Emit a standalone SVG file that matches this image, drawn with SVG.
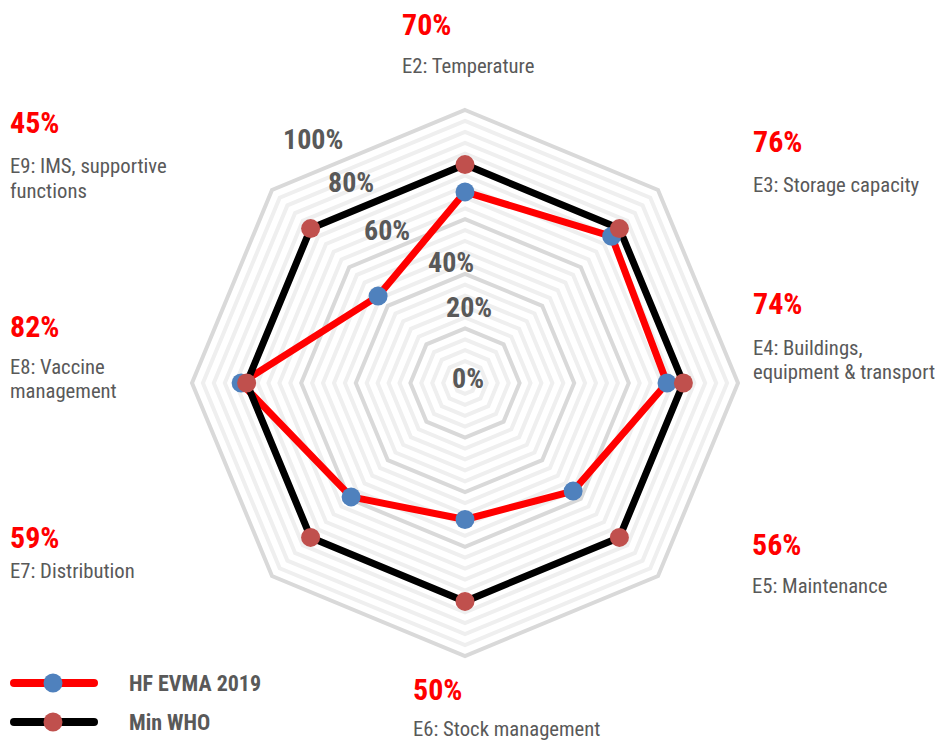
<svg xmlns="http://www.w3.org/2000/svg" width="938" height="743" viewBox="0 0 938 743">
<style>
.minor{fill:none;stroke:#efefef;stroke-width:4}
.major{fill:none;stroke:#d9d9d9;stroke-width:4}
.ax{font-family:"Liberation Sans Narrow","Roboto Condensed","Arial Narrow","Liberation Sans",sans-serif;font-weight:bold;font-size:28px;fill:#595959}
.val{font-family:"Liberation Sans Narrow","Roboto Condensed","Arial Narrow","Liberation Sans",sans-serif;font-weight:bold;font-size:30px;fill:#ff0000}
.lbl{font-family:"Liberation Sans Narrow","Roboto Condensed","Arial Narrow","Liberation Sans",sans-serif;font-size:20.7px;fill:#595959}
.leg{font-family:"Liberation Sans Narrow","Roboto Condensed","Arial Narrow","Liberation Sans",sans-serif;font-weight:bold;font-size:22px;fill:#595959}
.hf{fill:none;stroke:#ff0000;stroke-width:7;stroke-linejoin:round}
.who{fill:none;stroke:#000000;stroke-width:7;stroke-linejoin:round}
.dhf{fill:#4f81bd}
.dwho{fill:#c0504d}
</style>
<rect width="938" height="743" fill="#ffffff"/>
<g id="grid">
<polygon class="minor" points="465,372.1 472.7,375.3 475.9,383 472.7,390.7 465,393.9 457.3,390.7 454.1,383 457.3,375.3"/>
<polygon class="minor" points="465,361.2 480.4,367.6 486.8,383 480.4,398.4 465,404.8 449.6,398.4 443.2,383 449.6,367.6"/>
<polygon class="minor" points="465,350.2 488.2,359.8 497.8,383 488.2,406.2 465,415.8 441.8,406.2 432.2,383 441.8,359.8"/>
<polygon class="minor" points="465,339.3 495.9,352.1 508.7,383 495.9,413.9 465,426.7 434.1,413.9 421.3,383 434.1,352.1"/>
<polygon class="major" points="465,328.4 503.6,344.4 519.6,383 503.6,421.6 465,437.6 426.4,421.6 410.4,383 426.4,344.4"/>
<polygon class="minor" points="465,317.5 511.3,336.7 530.5,383 511.3,429.3 465,448.5 418.7,429.3 399.5,383 418.7,336.7"/>
<polygon class="minor" points="465,306.6 519.1,328.9 541.4,383 519.1,437.1 465,459.4 410.9,437.1 388.6,383 410.9,328.9"/>
<polygon class="minor" points="465,295.6 526.8,321.2 552.4,383 526.8,444.8 465,470.4 403.2,444.8 377.6,383 403.2,321.2"/>
<polygon class="minor" points="465,284.7 534.5,313.5 563.3,383 534.5,452.5 465,481.3 395.5,452.5 366.7,383 395.5,313.5"/>
<polygon class="major" points="465,273.8 542.2,305.8 574.2,383 542.2,460.2 465,492.2 387.8,460.2 355.8,383 387.8,305.8"/>
<polygon class="minor" points="465,262.9 549.9,298.1 585.1,383 549.9,467.9 465,503.1 380.1,467.9 344.9,383 380.1,298.1"/>
<polygon class="minor" points="465,252 557.7,290.3 596,383 557.7,475.7 465,514 372.3,475.7 334,383 372.3,290.3"/>
<polygon class="minor" points="465,241 565.4,282.6 607,383 565.4,483.4 465,525 364.6,483.4 323,383 364.6,282.6"/>
<polygon class="minor" points="465,230.1 573.1,274.9 617.9,383 573.1,491.1 465,535.9 356.9,491.1 312.1,383 356.9,274.9"/>
<polygon class="major" points="465,219.2 580.8,267.2 628.8,383 580.8,498.8 465,546.8 349.2,498.8 301.2,383 349.2,267.2"/>
<polygon class="minor" points="465,208.3 588.5,259.5 639.7,383 588.5,506.5 465,557.7 341.5,506.5 290.3,383 341.5,259.5"/>
<polygon class="minor" points="465,197.4 596.3,251.7 650.6,383 596.3,514.3 465,568.6 333.7,514.3 279.4,383 333.7,251.7"/>
<polygon class="minor" points="465,186.4 604,244 661.6,383 604,522 465,579.6 326,522 268.4,383 326,244"/>
<polygon class="minor" points="465,175.5 611.7,236.3 672.5,383 611.7,529.7 465,590.5 318.3,529.7 257.5,383 318.3,236.3"/>
<polygon class="major" points="465,164.6 619.4,228.6 683.4,383 619.4,537.4 465,601.4 310.6,537.4 246.6,383 310.6,228.6"/>
<polygon class="minor" points="465,153.7 627.2,220.8 694.3,383 627.2,545.2 465,612.3 302.8,545.2 235.7,383 302.8,220.8"/>
<polygon class="minor" points="465,142.8 634.9,213.1 705.2,383 634.9,552.9 465,623.2 295.1,552.9 224.8,383 295.1,213.1"/>
<polygon class="minor" points="465,131.8 642.6,205.4 716.2,383 642.6,560.6 465,634.2 287.4,560.6 213.8,383 287.4,205.4"/>
<polygon class="minor" points="465,120.9 650.3,197.7 727.1,383 650.3,568.3 465,645.1 279.7,568.3 202.9,383 279.7,197.7"/>
<polygon class="major" points="465,110 658,190 738,383 658,576 465,656 272,576 192,383 272,190"/>
</g>
<g id="axis-labels">
<text class="ax" x="283" y="149">100%</text>
<text class="ax" x="328" y="192">80%</text>
<text class="ax" x="364" y="240">60%</text>
<text class="ax" x="428" y="272">40%</text>
<text class="ax" x="446" y="317">20%</text>
<text class="ax" x="452" y="388">0%</text>
</g>
<g id="connectors">
<polygon class="hf" points="465,191.9 611.7,236.3 667,383 573.1,491.1 465,519.5 351.1,496.9 241.1,383 378.1,296.1"/>
<polygon class="who" points="465,164.6 619.4,228.6 683.4,383 619.4,537.4 465,601.4 310.6,537.4 246.6,383 310.6,228.6"/>
</g>
<g id="series-hf">
<circle class="dhf" cx="465" cy="191.9" r="9.5"/>
<circle class="dhf" cx="611.7" cy="236.3" r="9.5"/>
<circle class="dhf" cx="667" cy="383" r="9.5"/>
<circle class="dhf" cx="573.1" cy="491.1" r="9.5"/>
<circle class="dhf" cx="465" cy="519.5" r="9.5"/>
<circle class="dhf" cx="351.1" cy="496.9" r="9.5"/>
<circle class="dhf" cx="241.1" cy="383" r="9.5"/>
<circle class="dhf" cx="378.1" cy="296.1" r="9.5"/>
</g>
<g id="series-who">
<circle class="dwho" cx="465" cy="164.6" r="9.5"/>
<circle class="dwho" cx="619.4" cy="228.6" r="9.5"/>
<circle class="dwho" cx="683.4" cy="383" r="9.5"/>
<circle class="dwho" cx="619.4" cy="537.4" r="9.5"/>
<circle class="dwho" cx="465" cy="601.4" r="9.5"/>
<circle class="dwho" cx="310.6" cy="537.4" r="9.5"/>
<circle class="dwho" cx="246.6" cy="383" r="9.5"/>
<circle class="dwho" cx="310.6" cy="228.6" r="9.5"/>
</g>
<g id="E2"><text class="val" x="402" y="35">70%</text><text class="lbl" x="402" y="73">E2: Temperature</text></g>
<g id="E3"><text class="val" x="753" y="152">76%</text><text class="lbl" x="753" y="192">E3: Storage capacity</text></g>
<g id="E4"><text class="val" x="753" y="314">74%</text><text class="lbl" x="753" y="355">E4: Buildings,</text><text class="lbl" x="753" y="379">equipment &amp; transport</text></g>
<g id="E5"><text class="val" x="752" y="555">56%</text><text class="lbl" x="752" y="593">E5: Maintenance</text></g>
<g id="E6"><text class="val" x="413" y="700">50%</text><text class="lbl" x="413" y="736">E6: Stock management</text></g>
<g id="E7"><text class="val" x="10" y="548">59%</text><text class="lbl" x="10" y="578">E7: Distribution</text></g>
<g id="E8"><text class="val" x="10" y="337">82%</text><text class="lbl" x="10" y="374">E8: Vaccine</text><text class="lbl" x="10" y="398">management</text></g>
<g id="E9"><text class="val" x="10" y="133">45%</text><text class="lbl" x="10" y="173">E9: IMS, supportive</text><text class="lbl" x="10" y="198">functions</text></g>
<g id="legend">
<line x1="14" y1="683" x2="94" y2="683" stroke="#ff0000" stroke-width="8" stroke-linecap="round"/>
<circle class="dhf" cx="53" cy="683" r="9.5"/>
<text class="leg" x="129" y="691">HF EVMA 2019</text>
<line x1="14" y1="722" x2="94" y2="722" stroke="#000000" stroke-width="8" stroke-linecap="round"/>
<circle class="dwho" cx="53" cy="722" r="9.5"/>
<text class="leg" x="129" y="730">Min WHO</text>
</g>
</svg>
